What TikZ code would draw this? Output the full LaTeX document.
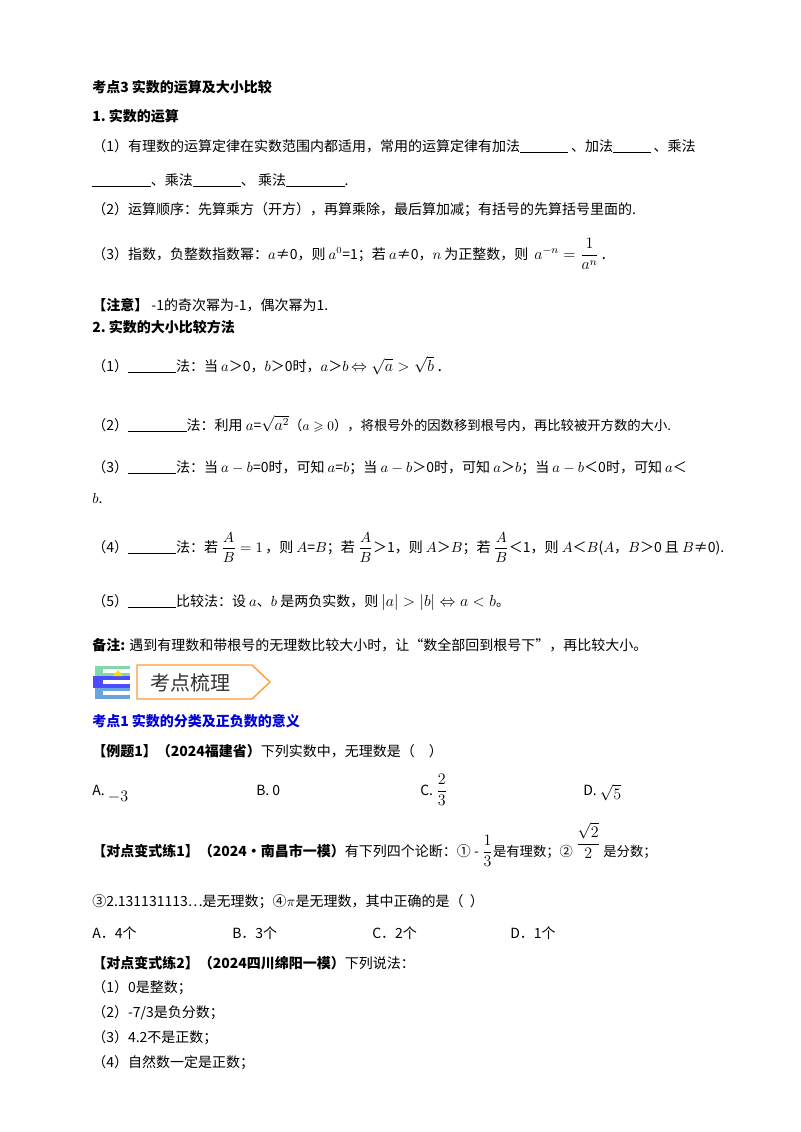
\documentclass[tikz,border=0pt]{standalone}
\usepackage{amsmath,amssymb}
\usepackage{fontspec}
\setmainfont{Noto Sans CJK SC}
\newcommand{\bl}[1]{\rule[-1pt]{#1pt}{0.4pt}}
\begin{document}
\begin{tikzpicture}[x=0.75pt,y=-0.75pt,
  t/.style={anchor=base west,inner sep=0pt,font=\fontsize{10.5}{12}\selectfont},
  hb/.style={t,font=\fontsize{10.5}{12}\selectfont\bfseries}]
\useasboundingbox (0,0) rectangle (800,1132);
\fill[white] (0,0) rectangle (800,1132);
\node[hb] (h1) at (92,92) {考点3 实数的运算及大小比较};
\node[hb] (h2) at (92,121) {1.\ 实数的运算};
\node[t] (l1) at (92,151) {（1）有理数的运算定律在实数范围内都适用，常用的运算定律有加法\bl{36} 、加法\bl{28} 、乘法};
\node[t] (l2) at (92,185) {\bl{44}、乘法\bl{36}、 乘法\bl{44}.};
\node[t] (l3) at (92,214) {（2）运算顺序：先算乘方（开方），再算乘除，最后算加减；有括号的先算括号里面的.};
\node[t] (l4) at (92,259) {（3）指数，负整数指数幂：$a$≠0，则 $a^0$=1；若 $a$≠0，$n$ 为正整数，则};
\node[t] (l4f) at ([xshift=4pt]l4.base east) {\large$a^{-n}=\dfrac{1}{a^{n}}$\,.};
\node[t] (l5) at (92,310) {\textbf{【注意】} -1的奇次幂为-1，偶次幂为1.};
\node[hb] (h3) at (92,332) {2.\ 实数的大小比较方法};
\node[t] (m1) at (92,371) {（1）\bl{36}法：当 $a$＞0，$b$＞0时，$a$＞$b$\,\large$\Leftrightarrow\sqrt{a}>\sqrt{b}$\ .};
\node[t] (m2) at (92,430) {（2）\bl{44}法：利用 $a$=\large$\sqrt{a^2}$\normalsize （$a\geqslant0$），将根号外的因数移到根号内，再比较被开方数的大小.};
\node[t] (m3) at (92,472) {（3）\bl{36}法：当 $a-b$=0时，可知 $a$=$b$；当 $a-b$＞0时，可知 $a$＞$b$；当 $a-b$＜0时，可知 $a$＜};
\node[t] (m3b) at (92,503) {$b$.};
\node[t] (m4) at (92,552) {（4）\bl{36}法：若 $\dfrac{A}{B}=1$\,，则 $A$=$B$；若 $\dfrac{A}{B}$＞1，则 $A$＞$B$；若 $\dfrac{A}{B}$＜1，则 $A$＜$B$($A$，$B$＞0 且 $B$≠0).};
\node[t] (m5) at (92,606) {（5）\bl{36}比较法：设 $a$、$b$ 是两负实数，则 \large$|a|>|b|\Leftrightarrow a<b$\normalsize 。};
\node[t] (m6) at (92,650) {\textbf{备注:} 遇到有理数和带根号的无理数比较大小时，让“数全部回到根号下”，再比较大小。};
% banner
\fill[teal!60!green!50] (95,666) rectangle (130,676);
\fill[blue!70] (93,676) rectangle (130,688);
\fill[cyan!60!blue!60] (95,688) rectangle (130,699);
\fill[white] (103,669) rectangle (130,673);
\fill[white] (103,680) rectangle (130,684);
\fill[white] (103,691) rectangle (130,695);
\fill[yellow!80!orange] (113,676) -- (118,670) -- (123,676) -- cycle;
\draw[orange!80,line width=1pt] (137,665) -- (252,665) -- (270,682) -- (252,699) -- (137,699) -- cycle;
\node[anchor=base west,inner sep=0pt,font=\fontsize{15}{18}\selectfont,text=black!80] (ban) at (150,690) {考点梳理};
\node[hb,text=blue!85!black] (k1) at (92,726) {考点1 实数的分类及正负数的意义};
\node[t] (e1) at (92,756) {\textbf{【例题1】（2024福建省）}下列实数中，无理数是（\quad ）};
\node[t] (a1) at (92,795) {A.\ \raisebox{-5pt}{\large$-3$}};
\node[t] (b1) at (256,795) {B.\ 0};
\node[t] (c1) at (420,795) {C.\ \large$\dfrac{2}{3}$};
\node[t] (d1) at (583,795) {D.\ \raisebox{-3pt}{\large$\sqrt{5}$}};
\node[t] (e2) at (92,856) {\textbf{【对点变式练1】（2024·南昌市一模）}有下列四个论断：① - \large$\dfrac{1}{3}$\normalsize 是有理数；② \raisebox{6pt}{\large$\dfrac{\sqrt{2}}{2}$} 是分数；};
\node[t] (e3) at (92,906) {③2.131131113…是无理数；④$\pi$是无理数，其中正确的是（\ \ ）};
\node[t] (o1) at (92,938) {A．4个};
\node[t] (o2) at (232,938) {B．3个};
\node[t] (o3) at (372,938) {C．2个};
\node[t] (o4) at (510,938) {D．1个};
\node[t] (e4) at (92,968) {\textbf{【对点变式练2】（2024四川绵阳一模）}下列说法：};
\node[t] (s1) at (92,992) {（1）0是整数；};
\node[t] (s2) at (92,1017) {（2）-7/3是负分数；};
\node[t] (s3) at (92,1042) {（3）4.2不是正数；};
\node[t] (s4) at (92,1067) {（4）自然数一定是正数；};
\end{tikzpicture}
\end{document}
